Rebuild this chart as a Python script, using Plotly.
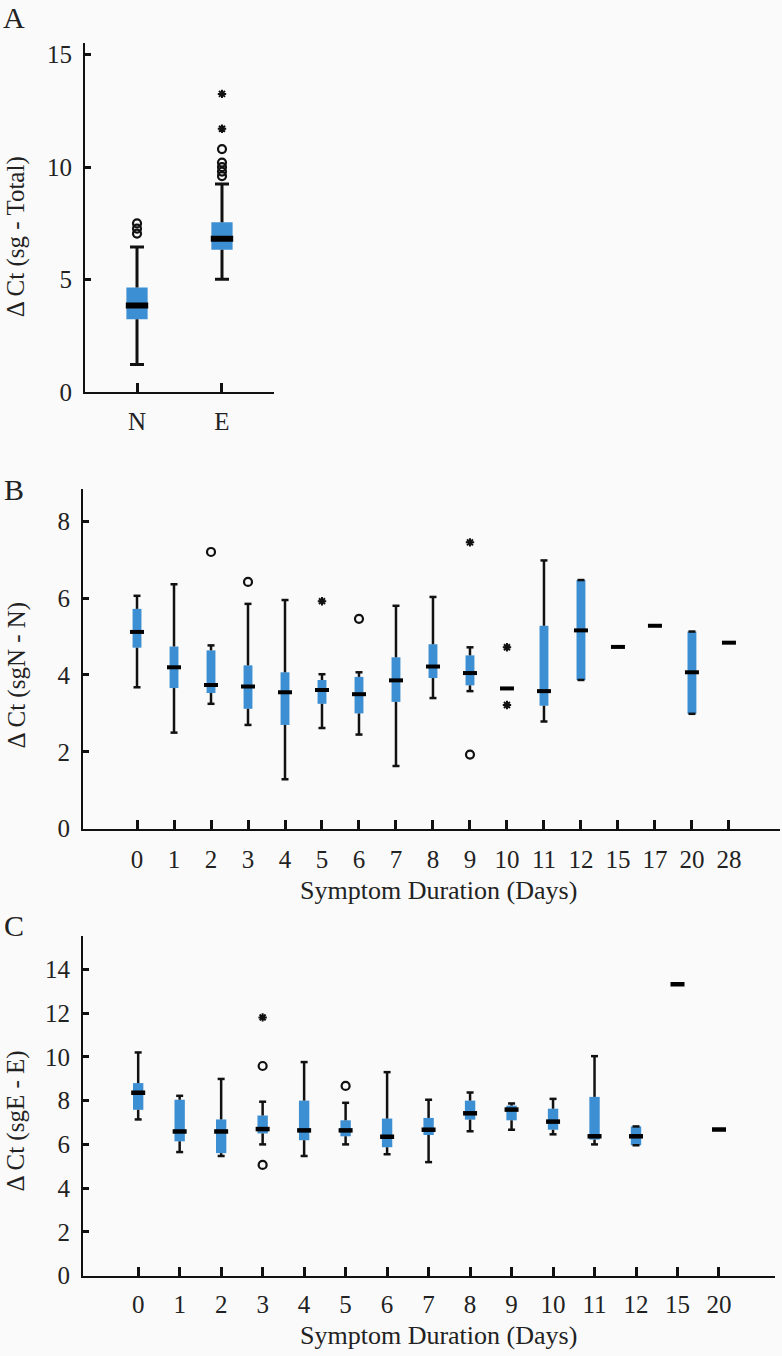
import plotly.graph_objects as go

# ---------------- Panel A ----------------
a_cats = ["N", "E"]
a_low = [1.23, 5.02]
a_q1 = [3.25, 6.33]
a_med = [3.86, 6.82]
a_q3 = [4.65, 7.55]
a_high = [6.45, 9.25]
a_circ_x = ["N", "N", "N", "E", "E", "E", "E", "E"]
a_circ_y = [7.50, 7.27, 7.05, 10.80, 10.20, 10.00, 9.80, 9.60]
a_star_x = ["E", "E"]
a_star_y = [13.25, 11.70]

# ---------------- Panel B ----------------
b_cats = ["0", "1", "2", "3", "4", "5", "6", "7", "8", "9", "10", "11", "12", "15", "17", "20", "28"]
b_low = [3.68, 2.50, 3.25, 2.70, 1.29, 2.62, 2.45, 1.63, 3.40, 3.58, None, 2.79, 3.87, None, None, 2.99, None]
b_q1 = [4.71, 3.66, 3.53, 3.12, 2.70, 3.25, 3.00, 3.30, 3.92, 3.73, None, 3.20, 3.87, None, None, 2.99, None]
b_med = [5.12, 4.20, 3.74, 3.70, 3.55, 3.61, 3.50, 3.86, 4.22, 4.05, 3.65, 3.58, 5.16, 4.73, 5.28, 4.07, 4.84]
b_q3 = [5.72, 4.74, 4.64, 4.25, 4.07, 3.87, 3.95, 4.46, 4.80, 4.51, None, 5.28, 6.47, None, None, 5.13, None]
b_high = [6.06, 6.36, 4.77, 5.85, 5.95, 4.02, 4.07, 5.80, 6.03, 4.72, None, 6.98, 6.47, None, None, 5.13, None]
b_circ_x = ["2", "3", "6", "9"]
b_circ_y = [7.20, 6.42, 5.46, 1.93]
b_star_x = ["5", "9", "10", "10"]
b_star_y = [5.92, 7.45, 4.72, 3.22]

# ---------------- Panel C ----------------
c_cats = ["0", "1", "2", "3", "4", "5", "6", "7", "8", "9", "10", "11", "12", "15", "20"]
c_low = [7.14, 5.65, 5.47, 6.00, 5.47, 6.00, 5.55, 5.19, 6.60, 6.67, 6.46, 6.00, 5.96, None, None]
c_q1 = [7.58, 6.14, 5.60, 6.50, 6.19, 6.37, 5.87, 6.43, 7.13, 7.10, 6.67, 6.22, 5.96, None, None]
c_med = [8.36, 6.59, 6.59, 6.70, 6.64, 6.64, 6.35, 6.67, 7.42, 7.59, 7.04, 6.37, 6.37, 13.32, 6.68]
c_q3 = [8.80, 8.04, 7.14, 7.32, 8.00, 7.10, 7.18, 7.21, 8.00, 7.77, 7.63, 8.17, 6.82, None, None]
c_high = [10.20, 8.22, 8.99, 7.95, 9.76, 7.90, 9.30, 8.04, 8.37, 7.87, 8.08, 10.03, 6.82, None, None]
c_circ_x = ["3", "3", "5"]
c_circ_y = [9.58, 5.06, 8.67]
c_star_x = ["3"]
c_star_y = [11.80]

a_yticks = [0, 5, 10, 15]
b_yticks = [0, 2, 4, 6, 8]
c_yticks = [0, 2, 4, 6, 8, 10, 12, 14]

BLUE = "#3d8fd3"
INK = "#111111"
BG = "#fafafa"
FONT = "'Liberation Serif', 'DejaVu Serif', serif"
W, H = 782, 1356

fig = go.Figure()


def add_panel(cats, low, q1, med, q3, high, cx, cy, sx, sy, xa, ya,
              bw, medw, medt, wlw, capw, csize):
    # boxes
    heights = [(b - a) if (a is not None and b is not None) else None for a, b in zip(q1, q3)]
    fig.add_trace(go.Bar(x=cats, y=heights, base=q1, width=bw,
                         marker=dict(color=BLUE, line=dict(width=0)),
                         xaxis=xa, yaxis=ya, hoverinfo="skip"))
    # whiskers
    wx, wy, capx, capy = [], [], [], []
    for c, lo, a, b, hi in zip(cats, low, q1, q3, high):
        if lo is None:
            continue
        wx += [c, c, None, c, c, None]
        wy += [a, lo, None, b, hi, None]
        capx += [c, c]
        capy += [lo, hi]
    fig.add_trace(go.Scatter(x=wx, y=wy, mode="lines", line=dict(color=INK, width=wlw),
                             xaxis=xa, yaxis=ya, hoverinfo="skip", connectgaps=False))
    fig.add_trace(go.Scatter(x=capx, y=capy, mode="markers",
                             marker=dict(symbol="line-ew", size=capw, color=INK,
                                         line=dict(color=INK, width=wlw)),
                             xaxis=xa, yaxis=ya, hoverinfo="skip"))
    # medians
    fig.add_trace(go.Scatter(x=cats, y=med, mode="markers",
                             marker=dict(symbol="line-ew", size=medw, color="black",
                                         line=dict(color="black", width=medt)),
                             xaxis=xa, yaxis=ya, hoverinfo="skip"))
    # outliers
    fig.add_trace(go.Scatter(x=cx, y=cy, mode="markers",
                             marker=dict(symbol="circle-open", size=csize, color=INK,
                                         line=dict(color=INK, width=2.2)),
                             xaxis=xa, yaxis=ya, hoverinfo="skip"))
    fig.add_trace(go.Scatter(x=sx, y=sy, mode="markers",
                             marker=dict(symbol="asterisk-open", size=csize - 1, color=INK,
                                         line=dict(color=INK, width=2)),
                             xaxis=xa, yaxis=ya, hoverinfo="skip"))


add_panel(a_cats, a_low, a_q1, a_med, a_q3, a_high, a_circ_x, a_circ_y, a_star_x, a_star_y,
          "x", "y", 0.25, 16, 6, 3, 10, 8)
add_panel(b_cats, b_low, b_q1, b_med, b_q3, b_high, b_circ_x, b_circ_y, b_star_x, b_star_y,
          "x2", "y2", 0.24, 10, 4, 2.5, 5, 8)
add_panel(c_cats, c_low, c_q1, c_med, c_q3, c_high, c_circ_x, c_circ_y, c_star_x, c_star_y,
          "x3", "y3", 0.25, 10, 4.5, 2.5, 5, 8)


def px(x):
    return x / W


def py(y):
    return 1 - y / H


def xaxis(domain, cats, rng, anchor, standoff):
    return dict(domain=domain, anchor=anchor, type="category", categoryorder="array",
                categoryarray=cats, range=rng, showline=True, linecolor=INK, linewidth=2,
                ticks="inside", ticklen=9, tickwidth=3, tickcolor=INK, showgrid=False,
                zeroline=False, tickfont=dict(family=FONT, size=25, color="#222"),
                ticklabelstandoff=standoff, fixedrange=True)


def yaxis(domain, rng, tv, anchor, size):
    return dict(domain=domain, anchor=anchor, range=rng, tickvals=tv, showline=True,
                linecolor=INK, linewidth=2, ticks="inside", ticklen=6, tickwidth=3,
                tickcolor=INK, showgrid=False, zeroline=False,
                tickfont=dict(family=FONT, size=size, color="#222"),
                ticklabelstandoff=6, fixedrange=True)


fig.update_layout(
    width=W, height=H, margin=dict(l=0, r=0, t=0, b=0),
    paper_bgcolor=BG, plot_bgcolor=BG, showlegend=False,
    barmode="overlay", font=dict(family=FONT),
    xaxis=xaxis([px(85), px(274)], a_cats, [-0.612, 1.612], "y", 6),
    yaxis=yaxis([py(395.7), py(42)], [0, 15.53], a_yticks, "x", 25),
    xaxis2=xaxis([px(83), px(780)], b_cats, [-1.46, 17.38], "y2", 7),
    yaxis2=yaxis([py(837), py(493)], [0, 8.85], b_yticks, "x2", 25),
    xaxis3=xaxis([px(83), px(775)], c_cats, [-1.33, 15.35], "y3", 5),
    yaxis3=yaxis([py(1289), py(945)], [0, 15.54], c_yticks, "x3", 25),
)

anns = [
    dict(text="A", x=px(14), y=py(17), size=30, angle=0),
    dict(text="B", x=px(14), y=py(494), size=30, angle=0),
    dict(text="C", x=px(14), y=py(935), size=30, angle=0),
    dict(text="Δ Ct (sg - Total)", x=px(16), y=py(239), size=25, angle=-90),
    dict(text="Δ Ct (sgN - N)", x=px(17), y=py(682), size=25, angle=-90),
    dict(text="Δ Ct (sgE - E)", x=px(16), y=py(1133), size=25, angle=-90),
    dict(text="Symptom Duration (Days)", x=px(438), y=py(899), size=26, angle=0),
    dict(text="Symptom Duration (Days)", x=px(438), y=py(1349), size=26, angle=0),
]
for a in anns:
    fig.add_annotation(text=a["text"], x=a["x"], y=a["y"], xref="paper", yref="paper",
                       xanchor="center", yanchor="middle", showarrow=False,
                       textangle=a["angle"], font=dict(family=FONT, size=a["size"], color="#222"))

fig.write_html(
    "out.html",
    config={"displayModeBar": False, "staticPlot": True},
    post_script="document.body.style.margin='0';document.body.style.background='" + BG + "';"
                "document.documentElement.style.overflow='hidden';",
)
